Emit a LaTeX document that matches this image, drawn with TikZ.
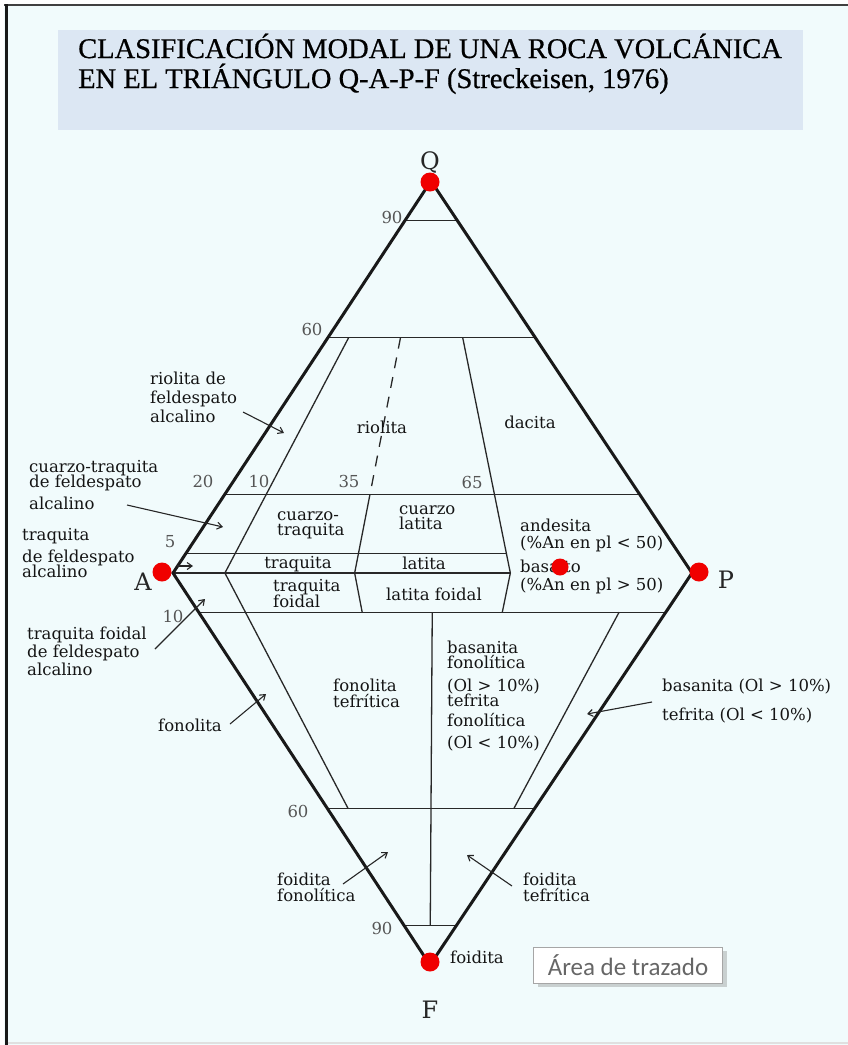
\documentclass[tikz,border=0pt]{standalone}
\usepackage{fontspec}
\setmainfont{DejaVu Serif}
\newfontfamily\titlefont[FakeBold=0.6]{Liberation Serif}
\newfontfamily\uifont{Carlito}
\usetikzlibrary{calc,arrows.meta,positioning,shadows}

\definecolor{bgcyan}{RGB}{241,251,252}
\definecolor{titleblue}{RGB}{220,231,243}
\definecolor{linegray}{RGB}{40,40,40}
\definecolor{numgray}{RGB}{85,85,85}
\definecolor{dotred}{RGB}{240,0,0}

\tikzset{
  x=1pt, y=-1pt,
  edge/.style={line width=3pt,black!90,line join=miter},
  bound/.style={line width=1.3pt,linegray},
  bounddash/.style={bound,dash pattern=on 11pt off 9pt},
  titletext/.style={font=\titlefont\fontsize{28.5}{30}\selectfont,inner sep=0pt,
    text=black},
  lbl/.style={font=\fontsize{16.5}{17}\selectfont,inner sep=0pt,text=black!92,
    align=left},
  num/.style={font=\fontsize{16.5}{17}\selectfont,inner sep=0pt,text=numgray},
  vtx/.style={font=\fontsize{24}{24}\selectfont,inner sep=0pt,text=black!85},
  vdot/.style={circle,fill=dotred,minimum size=19pt,inner sep=0pt},
  lead/.style={-{Straight Barb[length=5pt,width=7pt]},line width=1.1pt,black!85},
  areabox/.style={draw=black!35,fill=white,font=\uifont\fontsize{25}{25}\selectfont,
    text=black!60,minimum width=189pt,minimum height=36pt,inner sep=0pt,
    drop shadow={shadow xshift=4pt,shadow yshift=-4pt,opacity=0.35}},
}

\begin{document}
\begin{tikzpicture}
  \useasboundingbox (0,0) rectangle (848,1045);
  \fill[bgcyan] (0,0) rectangle (848,1045);
  % frame
  \fill[white] (0,0) rectangle (848,4);
  \fill[white] (0,0) rectangle (4,1045);
  \draw[line width=2.5pt,black!75] (4,5) -- (848,5);
  \draw[line width=3pt,black!90] (6,4) -- (6,1045);
  \draw[line width=2pt,black!12] (8,1043) -- (848,1043);

  % title
  \fill[titleblue] (58,30) rectangle (803,130);
  \node[titletext,anchor=base west] (title1) at (78,58)
    {CLASIFICACIÓN MODAL DE UNA ROCA VOLCÁNICA};
  \node[titletext,anchor=base west] (title2) at (78,88)
    {EN EL TRIÁNGULO Q-A-P-F (Streckeisen, 1976)};

  % vertices of the double triangle
  \coordinate (Qv) at (431,181);
  \coordinate (Av) at (173,573);
  \coordinate (Pv) at (692,573);
  \coordinate (Fv) at (430,965);
  % ratios on A--P
  \coordinate (r10) at ($(Av)!0.10!(Pv)$);
  \coordinate (r35) at ($(Av)!0.35!(Pv)$);
  \coordinate (r50) at ($(Av)!0.50!(Pv)$);
  \coordinate (r65) at ($(Av)!0.65!(Pv)$);
  \coordinate (r90) at ($(Av)!0.90!(Pv)$);

  % Q and F levels
  \draw[bound] ($(Av)!0.9!(Qv)$) -- ($(Pv)!0.9!(Qv)$);
  \draw[bound] ($(Av)!0.6!(Qv)$) -- ($(Pv)!0.6!(Qv)$);
  \draw[bound] ($(Av)!0.2!(Qv)$) -- ($(Pv)!0.2!(Qv)$);
  \draw[bound] ($(Av)!0.05!(Qv)$) -- ($(r65)!0.05!(Qv)$);
  \draw[bound] (Av) -- (r65);
  \draw[bound] ($(Av)!0.1!(Fv)$) -- ($(Pv)!0.1!(Fv)$);
  \draw[bound] ($(Av)!0.6!(Fv)$) -- ($(Pv)!0.6!(Fv)$);
  \draw[bound] ($(Av)!0.9!(Fv)$) -- ($(Pv)!0.9!(Fv)$);
  % P/(A+P) ratios
  \draw[bound] ($(r10)!0.6!(Qv)$) -- (r10) -- ($(r10)!0.6!(Fv)$);
  \draw[bounddash] ($(r35)!0.6!(Qv)$) -- ($(r35)!0.2!(Qv)$);
  \draw[bound] ($(r35)!0.2!(Qv)$) -- (r35) -- ($(r35)!0.1!(Fv)$);
  \draw[bound] ($(r65)!0.6!(Qv)$) -- (r65) -- ($(r65)!0.1!(Fv)$);
  \draw[bound] ($(r50)!0.1!(Fv)$) -- ($(r50)!0.9!(Fv)$);
  \draw[bound] ($(r90)!0.1!(Fv)$) -- ($(r90)!0.6!(Fv)$);
  % outline
  \draw[edge] (Qv) -- (Av) -- (Fv) -- (Pv) -- cycle;

  % scale numbers
  \node[num] (n90q) at (392,217) {90};
  \node[num] (n60q) at (312,329) {60};
  \node[num] (n20) at (203,481) {20};
  \node[num] (n10q) at (259,481) {10};
  \node[num] (n35) at (349,481) {35};
  \node[num] (n65) at (472,482) {65};
  \node[num] (n5) at (170,542) {5};
  \node[num] (n10f) at (173,616) {10};
  \node[num] (n60f) at (298,811) {60};
  \node[num] (n90f) at (382,928) {90};

  % fields
  \node[lbl,anchor=north west,font=\fontsize{16.5}{19}\selectfont] (lRioAlc)
    at (150,372) {riolita de\\feldespato\\alcalino};
  \node[lbl] (lRio) at (382,427) {riolita};
  \node[lbl] (lDac) at (530,422) {dacita};
  \node[lbl,anchor=north west] (lCzTqAlc) at (29,460)
    {cuarzo-traquita\\[-2pt]de feldespato\\[5pt]alcalino};
  \node[lbl,anchor=north west] (lTqAlc) at (22,528)
    {traquita\\[5pt]de feldespato\\[-2pt]alcalino};
  \node[lbl,anchor=north west,font=\fontsize{16.5}{18}\selectfont] (lTqFdAlc)
    at (27,627) {traquita foidal\\de feldespato\\alcalino};
  \node[lbl,anchor=north west,font=\fontsize{16.5}{15}\selectfont] (lCzTq)
    at (277,511) {cuarzo-\\traquita};
  \node[lbl,anchor=north west,font=\fontsize{16.5}{15}\selectfont] (lCzLat)
    at (399,505) {cuarzo\\latita};
  \node[lbl] (lTq) at (298,564) {traquita};
  \node[lbl] (lLat) at (424,563) {latita};
  \node[lbl,anchor=north west,font=\fontsize{16.5}{16}\selectfont] (lTqFd)
    at (273,579) {traquita\\foidal};
  \node[lbl] (lLatFd) at (434,594) {latita foidal};
  \node[lbl,anchor=north west] (lAnd) at (520,519)
    {andesita\\(\%An en pl < 50)};
  \node[lbl,anchor=north west,font=\fontsize{16.5}{18}\selectfont] (lBas)
    at (520,560) {basalto\\(\%An en pl > 50)};
  \node[lbl,anchor=north west,font=\fontsize{16.5}{16}\selectfont] (lFonTef)
    at (333,679) {fonolita\\tefrítica};
  \node[lbl,anchor=north west] (lBasFon) at (447,641)
    {basanita\\[-2pt]fonolítica\\[6pt](Ol > 10\%)\\[-2pt]tefrita\\[3pt]fonolítica\\[5pt](Ol < 10\%)};
  \node[lbl,anchor=north west] (lBasTef) at (662,679)
    {basanita (Ol > 10\%)\\[12pt]tefrita (Ol < 10\%)};
  \node[lbl,anchor=west] (lFon) at (158,725) {fonolita};
  \node[lbl,anchor=north west,font=\fontsize{16.5}{16}\selectfont] (lFdFon)
    at (277,873) {foidita\\fonolítica};
  \node[lbl,anchor=north west,font=\fontsize{16.5}{16}\selectfont] (lFdTef)
    at (523,873) {foidita\\tefrítica};
  \node[lbl,anchor=west] (lFd) at (450,957) {foidita};

  % leaders
  \coordinate (aRioS) at (243,412);   \coordinate (aRio) at (284,433);
  \coordinate (aCzTqS) at (127,505);  \coordinate (aCzTq) at (223,527);
  \coordinate (aTqS) at (177,566);    \coordinate (aTq) at (193,566);
  \coordinate (aTqFdS) at (155,649);  \coordinate (aTqFd) at (205,599);
  \coordinate (aBasTefS) at (652,702);\coordinate (aBasTef) at (587,714);
  \coordinate (aFonS) at (230,724);   \coordinate (aFon) at (266,694);
  \coordinate (aFdFonS) at (343,884); \coordinate (aFdFon) at (388,852);
  \coordinate (aFdTefS) at (512,886); \coordinate (aFdTef) at (467,855);
  \draw[lead] (aRioS) -- (aRio);
  \draw[lead] (aCzTqS) -- (aCzTq);
  \draw[lead] (aTqS) -- (aTq);
  \draw[lead] (aTqFdS) -- (aTqFd);
  \draw[lead] (aBasTefS) -- (aBasTef);
  \draw[lead] (aFonS) -- (aFon);
  \draw[lead] (aFdFonS) -- (aFdFon);
  \draw[lead] (aFdTefS) -- (aFdTef);

  % vertex labels and markers
  \node[vtx] (lQ) at (430,163) {Q};
  \node[vtx] (lA) at (143,582) {A};
  \node[vtx] (lP) at (726,580) {P};
  \node[vtx] (lF) at (430,1010) {F};
  \node[vdot] (dotQ) at (430,182) {};
  \node[vdot] (dotA) at (162,572) {};
  \node[vdot] (dotP) at (699,572) {};
  \node[vdot] (dotF) at (430,962) {};
  \node[vdot,minimum size=17pt] (dotB) at (560,567) {};

  \node[areabox] (area) at (628,965) {Área de trazado};
\end{tikzpicture}
\end{document}
